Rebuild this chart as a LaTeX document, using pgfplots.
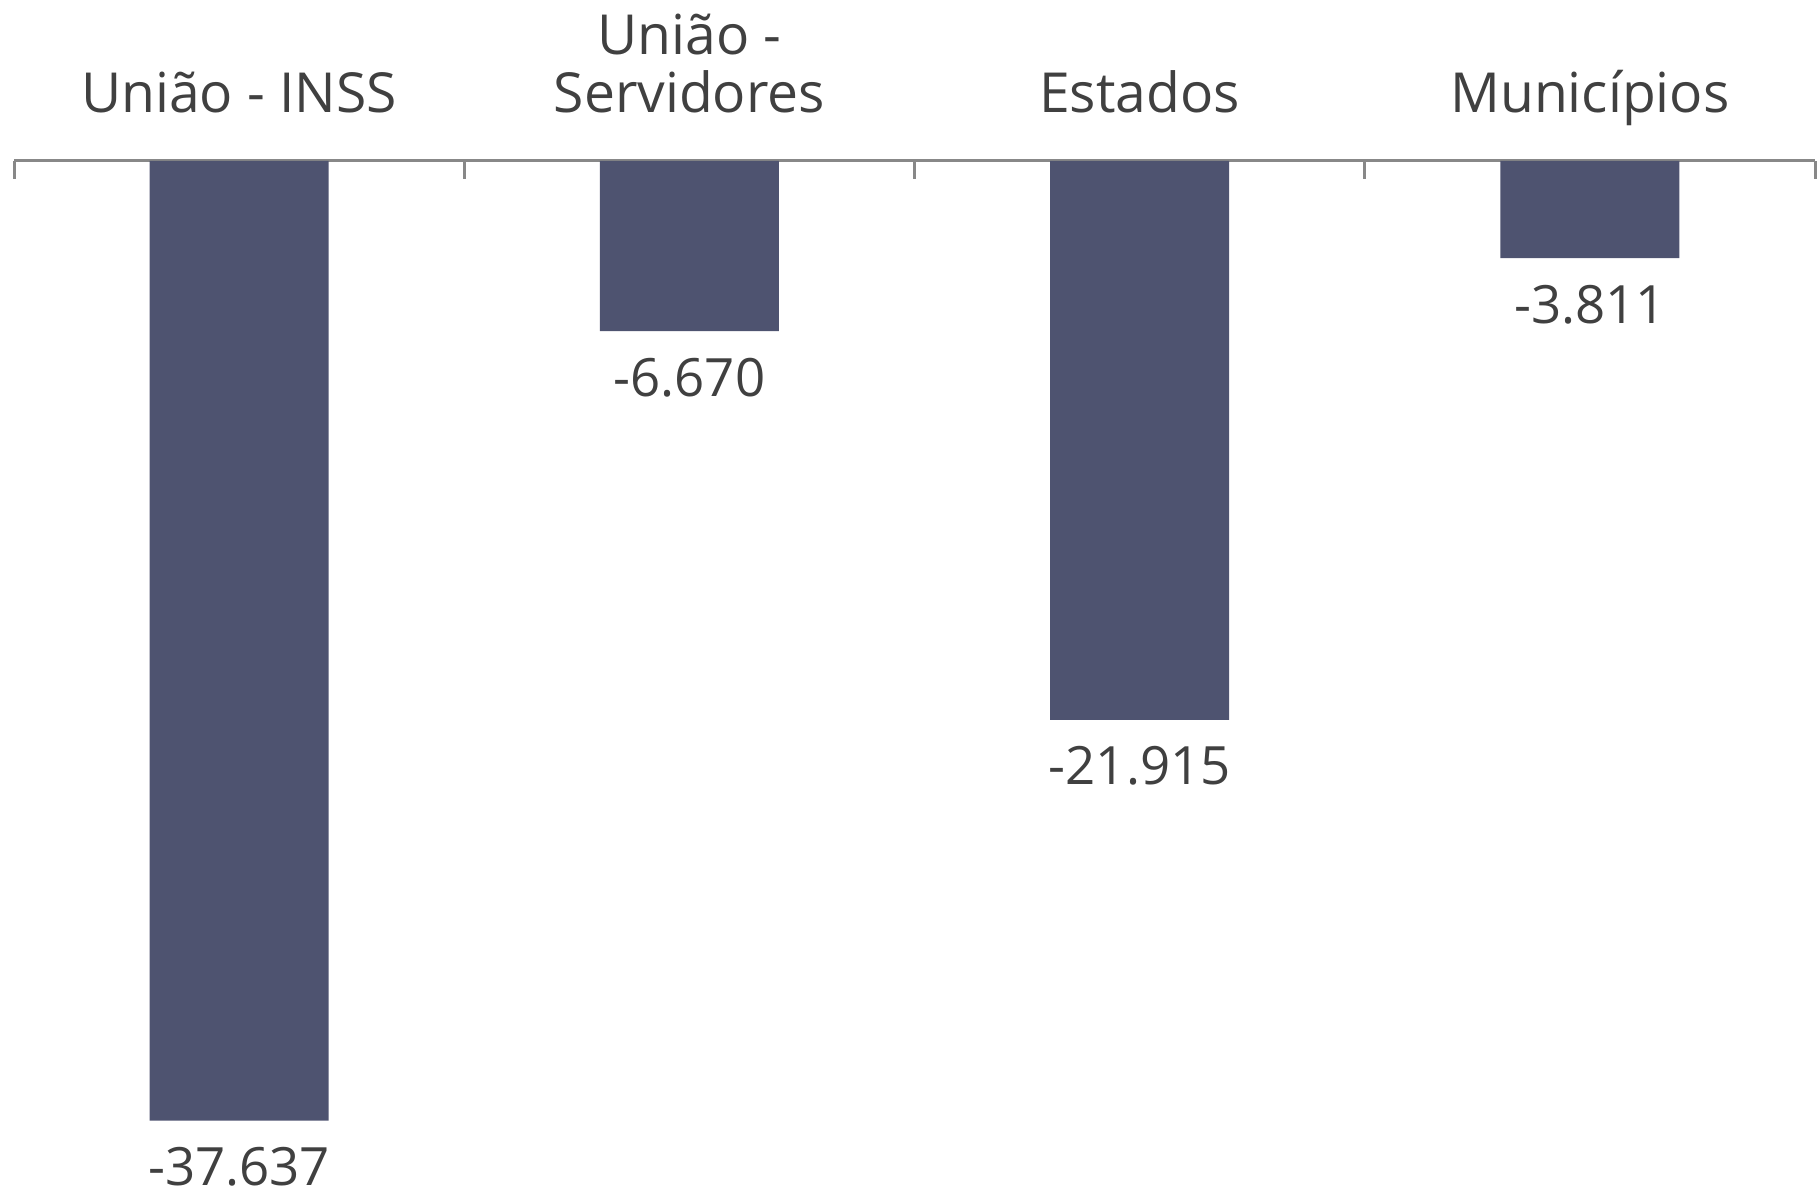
\documentclass[border=0pt]{standalone}
\usepackage{pgfplots}
\pgfplotsset{compat=1.18}
\usepackage{fontspec}
\setmainfont{Open Sans}
\definecolor{barc}{HTML}{4E5370}
\definecolor{txt}{HTML}{404040}
\definecolor{axc}{HTML}{888888}
\begin{document}
\begin{tikzpicture}
\begin{axis}[
 scale only axis, width=450.25pt, height=255pt,
 xmin=-0.5, xmax=3.5, ymin=-40, ymax=0,
 axis x line*=top, axis y line=none,
 x axis line style={draw=axc, line width=0.75pt},
 xtick={0,1,2,3},
 xticklabels={União - INSS, União -\\Servidores, Estados, Municípios},
 major x tick style={draw=none},
 major tick length=0pt,
 minor xtick={-0.5,0.5,1.5,2.5,3.5},
 minor x tick style={draw=axc, line width=0.75pt},
 tick align=outside,
 minor tick length=-4.5pt,
 xticklabel style={font=\fontsize{13.8}{14.5}\selectfont, text=txt, align=center, anchor=south, text depth=0pt, inner sep=0pt, yshift=12pt},
 ybar, bar width=44.75pt,
 nodes near coords, point meta=explicit symbolic,
 every node near coord/.append style={anchor=north, inner sep=0pt, yshift=-6.5pt, font=\fontsize{13.2}{13.2}\selectfont, text=txt},
 clip=false,
]
\addplot[fill=barc, draw=none] coordinates {(0,-37.637) [-37.637] (1,-6.670) [-6.670] (2,-21.915) [-21.915] (3,-3.811) [-3.811]};
\coordinate (bl) at (rel axis cs:0,0);
\coordinate (tr) at (rel axis cs:1,1);
\end{axis}
\pgfresetboundingbox
\path[use as bounding box] ([shift={(-3.5pt,-3pt)}]bl) rectangle ([shift={(1.25pt,40.25pt)}]tr);
\end{tikzpicture}
\end{document}
